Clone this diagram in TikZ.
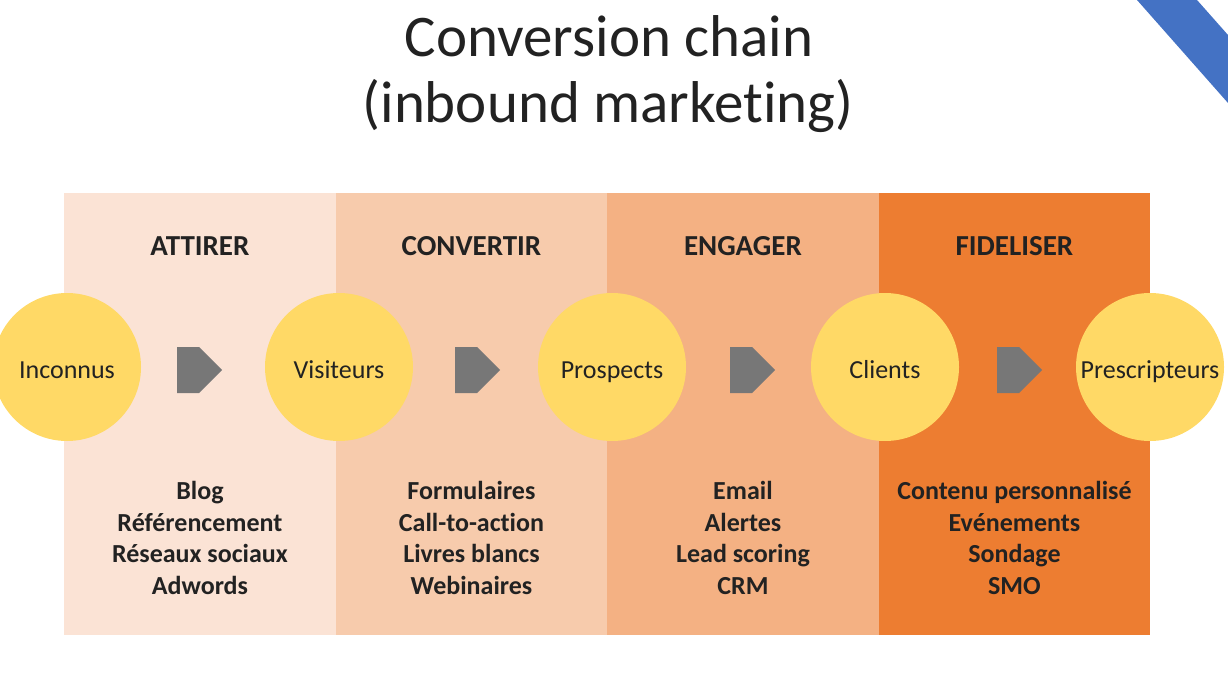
\documentclass[tikz,border=0pt]{standalone}
\usepackage{fontspec}
\setmainfont{Carlito}[Ligatures=NoCommon]
\usetikzlibrary{positioning,calc,shapes.symbols}
\definecolor{stageA}{HTML}{FBE3D5}
\definecolor{stageB}{HTML}{F7CBAC}
\definecolor{stageC}{HTML}{F4B183}
\definecolor{stageD}{HTML}{ED7D31}
\definecolor{goldfill}{HTML}{FFD966}
\definecolor{pointer}{HTML}{777777}
\definecolor{band}{HTML}{4472C4}
\definecolor{ink}{HTML}{222222}
\tikzset{
  % --- stage columns ---------------------------------------------------
  stage/.style   ={rectangle, draw=none, anchor=north west, inner sep=0,
                   minimum width=271.5pt, minimum height=442pt},
  head/.style    ={font=\bfseries\fontsize{29}{34}\selectfont, text=ink,
                   text height=19pt, text depth=0pt, inner sep=0},
  items/.style   ={font=\bfseries\fontsize{26}{31.5}\selectfont, text=ink,
                   align=center, inner sep=0},
  % --- audience circles ------------------------------------------------
  who/.style     ={circle, fill=goldfill, draw=none, minimum size=148pt,
                   inner sep=0, font=\fontsize{26}{30}\selectfont, text=ink,
                   text height=22pt, text depth=0pt},
  % --- step pointers ---------------------------------------------------
  stepsig/.style ={signal, signal to=east, signal pointer angle=90,
                   fill=pointer, draw=none, minimum width=45pt,
                   minimum height=46pt, inner sep=0, anchor=west},
  ttl/.style     ={font=\fontsize{59}{68}\selectfont, text=ink, inner sep=0},
}

\begin{document}
\begin{tikzpicture}[x=1pt,y=-1pt]
  \useasboundingbox (0,0) rectangle (1228,679);

  % ===================== corner band =====================
  \fill[band] (1137,0) -- (1197,0) -- (1228,35) -- (1228,103) -- cycle;

  % ===================== title =====================
  \node[ttl, anchor=base] (title) at (609,57) {Conversion chain};
  \node[ttl, anchor=base] (subtitle) at (608,123) {(inbound marketing)};

  % ===================== stages =====================
  \node[stage, fill=stageA] (attirer)    at (64,193)    {};
  \node[stage, fill=stageB] (convertir)  at (335.5,193) {};
  \node[stage, fill=stageC] (engager)    at (607,193)   {};
  \node[stage, fill=stageD] (fideliser)  at (878.5,193) {};

  \node[head] (hattirer)   at (attirer.north   |- 0,246) {ATTIRER};
  \node[head] (hconvertir) at (convertir.north |- 0,246) {CONVERTIR};
  \node[head] (hengager)   at (engager.north   |- 0,246) {ENGAGER};
  \node[head] (hfideliser) at (fideliser.north |- 0,246) {FIDELISER};

  \node[items] (lattirer) at (attirer.north |- 0,538)
    {Blog\\Référencement\\Réseaux sociaux\\Adwords};
  \node[items] (lconvertir) at (convertir.north |- 0,538)
    {Formulaires\\Call-to-action\\Livres blancs\\Webinaires};
  \node[items] (lengager) at (engager.north |- 0,538)
    {Email\\Alertes\\Lead scoring\\CRM};
  \node[items] (lfideliser) at (fideliser.north |- 0,538)
    {Contenu personnalisé\\Evénements\\Sondage\\SMO};

  % ===================== audiences =====================
  \node[who] (inconnus)      at (67,367)   {Inconnus};
  \node[who] (visiteurs)     at (339,367)  {Visiteurs};
  \node[who] (prospects)     at (612,367)  {Prospects};
  \node[who] (clients)       at (885,367)  {Clients};
  \node[who] (prescripteurs) at (1150,367) {Prescripteurs};

  % ===================== pointers =====================
  \node[stepsig] (s1) at (177,370) {};
  \node[stepsig] (s2) at (455,370) {};
  \node[stepsig] (s3) at (730,370) {};
  \node[stepsig] (s4) at (997,370) {};

\end{tikzpicture}
\end{document}
